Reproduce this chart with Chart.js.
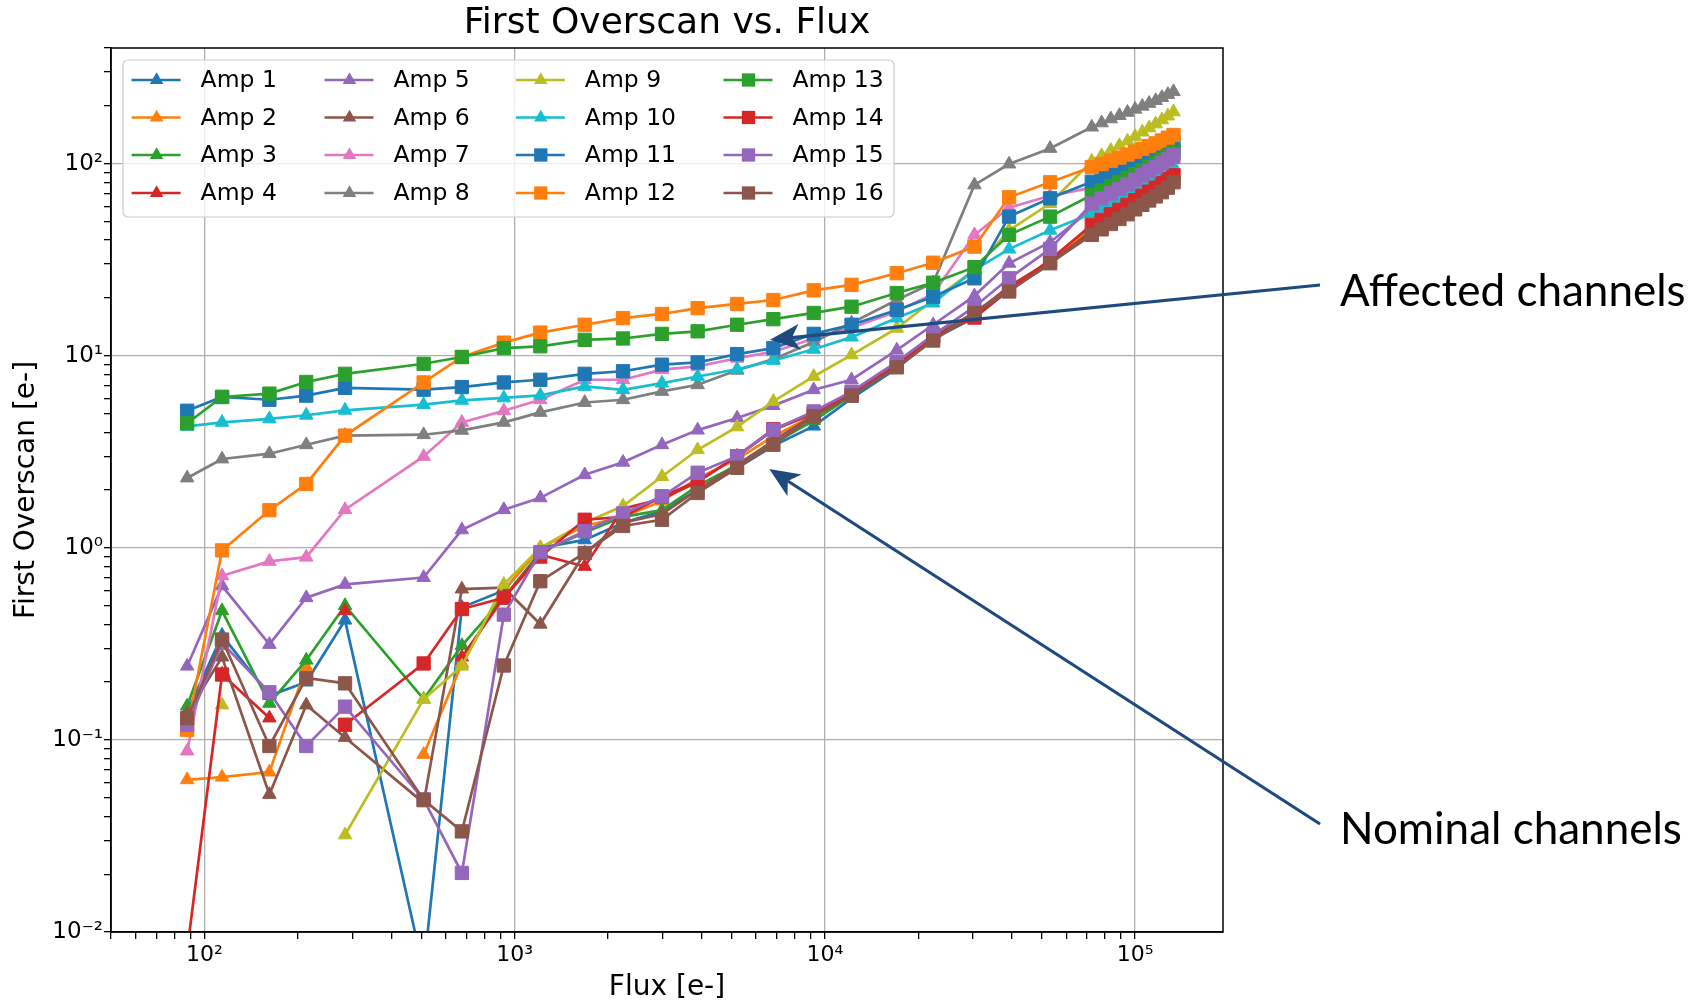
<!DOCTYPE html>
<html>
<head>
<meta charset="utf-8">
<script src="https://cdn.jsdelivr.net/npm/chart.js@4.4.1/dist/chart.umd.min.js"></script>
<style>
  html, body { margin: 0; background: #fff; }
  #wrap { width: 1706px; height: 1006px; }
</style>
</head>
<body>
<div id="wrap"><canvas id="chart" width="1706" height="1006"></canvas></div>
<script>
// flux levels [e-]
const flux = [88, 114, 162, 213, 284, 509, 676, 923, 1210, 1682, 2236, 2985, 3890, 5213, 6823, 9206, 12190, 17050, 22340, 30350, 39240, 53200,
  72500, 78000, 83500, 89000, 94500, 100000, 105500, 111000, 116500, 122000, 127500, 133000];

// first overscan [e-] per amplifier (null = not plotted on log axis)
const amp1 = [0.14, 0.35, 0.17, 0.2, 0.42, 0.0063, 0.49, 0.6, 1.0, 1.1, 1.35, 1.55, 2.0, 2.6, 3.4, 4.3, 6.0, 8.6, 12.2, 15.8, 22, 30, 46, 49, 52.5, 55.5, 59, 62.5, 66, 69.5, 73, 76.5, 80.5, 85];
const amp2 = [0.062, 0.064, 0.068, 0.24, null, 0.084, 0.25, 0.6, 1.0, 1.3, 1.45, 1.75, 2.3, 2.9, 3.8, 4.9, 6.3, 8.8, 12.3, 16.3, 22.5, 30.5, 47, 50, 53.5, 57, 60.5, 64, 67.5, 71, 75, 79, 83.5, 88];
const amp3 = [0.15, 0.47, 0.155, 0.26, 0.5, 0.163, 0.31, 0.55, 0.95, 1.2, 1.45, 1.57, 2.1, 2.7, 3.5, 4.6, 6.2, 8.8, 12.4, 16, 22, 30, 45, 48, 51.5, 54.5, 58, 61.5, 65, 68.5, 72, 75.5, 79.5, 84];
const amp4 = [null, 0.22, 0.13, null, 0.47, null, 0.27, 0.55, 0.92, 0.8, 1.6, 1.8, 2.2, 3.0, 4.1, 5.0, 6.4, 9.1, 12.8, 16.5, 23, 31, 44, 47, 50, 53, 56.5, 60, 63.5, 67, 70.5, 74, 78, 82];
const amp5 = [0.242, 0.634, 0.314, 0.55, 0.645, 0.70, 1.24, 1.58, 1.82, 2.4, 2.79, 3.44, 4.1, 4.74, 5.5, 6.65, 7.5, 10.7, 14.5, 20.5, 30.3, 39, 58, 62, 66, 70, 73.5, 77.5, 81.5, 85.5, 89.5, 94, 99, 105];
const amp6 = [0.137, 0.27, 0.052, 0.152, 0.103, 0.047, 0.61, 0.62, 0.4, 0.94, 1.35, 1.5, 2.0, 2.7, 3.6, 4.9, 6.4, 9.0, 12.5, 16.8, 22.5, 31, 43, 46, 49, 52, 55, 58.5, 62, 65.5, 69, 72.5, 76.5, 81];
const amp7 = [0.0875, 0.715, 0.85, 0.894, 1.58, 2.99, 4.5, 5.17, 5.9, 7.5, 7.5, 8.46, 8.8, 9.7, 10.5, 12.3, 14, 17, 21, 42.6, 59, 68, 75, 79, 83, 87, 91, 95, 99, 103, 107, 111, 115.5, 120];
const amp8 = [2.31, 2.9, 3.09, 3.44, 3.84, 3.88, 4.09, 4.5, 5.07, 5.71, 5.9, 6.52, 7.06, 8.4, 9.6, 11.8, 14.8, 19.5, 24, 77.5, 99.5, 120, 155, 163, 171, 178, 185, 192, 199, 206, 213, 221, 229, 237];
const amp9 = [null, 0.152, null, null, 0.032, 0.163, 0.242, 0.645, 1.0, 1.35, 1.65, 2.35, 3.24, 4.26, 5.78, 7.8, 10.1, 13.9, 19.5, 28, 45, 62, 103, 110, 117, 124, 131, 138.5, 146, 153.5, 161, 169, 177, 186];
const amp10 = [4.29, 4.5, 4.69, 4.9, 5.2, 5.56, 5.86, 6.03, 6.22, 6.92, 6.65, 7.2, 7.8, 8.5, 9.45, 10.8, 12.5, 15.7, 18.8, 28, 35.9, 45, 55, 58.5, 62, 65.5, 69, 72.5, 76.5, 80, 84, 88, 92.5, 97];
const amp11 = [5.17, 6.1, 5.9, 6.2, 6.8, 6.66, 6.87, 7.26, 7.5, 8.05, 8.3, 8.98, 9.23, 10.2, 10.96, 13.0, 14.5, 17.3, 20.3, 25.3, 53, 66, 80.5, 84.5, 89, 93, 97.5, 102, 106.5, 111, 115.5, 120, 125, 130];
const amp12 = [0.113, 0.97, 1.57, 2.15, 3.84, 7.26, 9.85, 11.7, 13.2, 14.5, 15.7, 16.5, 17.7, 18.6, 19.5, 21.9, 23.4, 26.9, 30.5, 37, 66.8, 80, 96, 99.5, 103.5, 107.5, 111.5, 115.5, 119.5, 123.5, 127.5, 132, 136.5, 141];
const amp13 = [4.45, 6.1, 6.35, 7.3, 8.05, 9.08, 9.85, 10.96, 11.2, 12.1, 12.3, 13.0, 13.4, 14.5, 15.5, 16.7, 18.0, 21.2, 24, 28.9, 42.6, 53, 68.7, 72.5, 76.5, 80.5, 84.5, 88.5, 92.5, 96.5, 101, 105.5, 110, 115];
const amp14 = [0.008, 0.219, null, null, 0.12, 0.25, 0.48, 0.55, 0.9, 1.4, 1.45, 1.85, 2.22, 3.0, 4.15, 5.0, 6.3, 9.0, 12.6, 15.8, 22, 31.6, 48, 51, 54.5, 57.5, 61, 64.5, 68, 71.5, 75, 79, 83, 87];
const amp15 = [0.12, 0.32, 0.177, 0.093, 0.149, 0.049, 0.0203, 0.449, 0.95, 1.22, 1.51, 1.85, 2.46, 3.0, 4.12, 5.13, 6.5, 9.3, 12.8, 18, 25.3, 36, 62, 66, 70, 74, 78, 82.5, 87, 91.5, 96, 100.5, 105.5, 111];
const amp16 = [0.13, 0.333, 0.093, 0.21, 0.197, 0.0488, 0.0334, 0.244, 0.67, 0.94, 1.3, 1.4, 1.93, 2.61, 3.44, 4.83, 6.2, 8.7, 12.0, 16.7, 21.6, 30.3, 42.6, 45.5, 48.5, 51.5, 54.5, 57.8, 61, 64.3, 67.5, 71, 75, 80];

const series = [amp1, amp2, amp3, amp4, amp5, amp6, amp7, amp8, amp9, amp10, amp11, amp12, amp13, amp14, amp15, amp16];
const ampNames = series.map((_, i) => 'Amp ' + (i + 1));

// annotation arrow tips (data coords)
const affectedTip = { x: 6650, y: 12.1 };
const nominalTip = { x: 6620, y: 2.57 };

const tab10 = ['#1f77b4', '#ff7f0e', '#2ca02c', '#d62728', '#9467bd', '#8c564b', '#e377c2', '#7f7f7f', '#bcbd22', '#17becf'];
const FONT = "'DejaVu Sans', sans-serif";

function sup(n) {
  const m = { '-': '\u207b', '0': '\u2070', '1': '\u00b9', '2': '\u00b2', '3': '\u00b3', '4': '\u2074', '5': '\u2075', '6': '\u2076', '7': '\u2077', '8': '\u2078', '9': '\u2079' };
  return String(n).split('').map(c => m[c]).join('');
}

function logTicks(min, max) {
  const out = [];
  for (let e = Math.floor(Math.log10(min)); e <= Math.ceil(Math.log10(max)); e++) {
    for (let k = 1; k < 10; k++) {
      const v = Number((k * Math.pow(10, e)).toPrecision(3));
      if (v >= min * 0.999 && v <= max * 1.001) out.push({ value: v, major: k === 1 });
    }
  }
  return out;
}

const datasets = series.map((vals, i) => {
  const c = tab10[i % 10];
  const r = i < 10 ? 7.8 : 9.4;
  return {
    label: ampNames[i],
    data: flux.map((f, j) => ({ x: f, y: vals[j] })),
    borderColor: c,
    backgroundColor: c,
    borderWidth: 2.7,
    pointStyle: i < 10 ? 'triangle' : 'rect',
    pointRadius: r,
    pointHoverRadius: r,
    pointBorderWidth: 1,
    pointBorderColor: c,
    pointBackgroundColor: c,
    spanGaps: false,
    tension: 0,
    order: 16 - i
  };
});

function drawMarker(ctx, style, r, x, y) {
  ctx.beginPath();
  if (style === 'triangle') {
    let a = 0;
    ctx.moveTo(x + Math.sin(a) * r, y - Math.cos(a) * r);
    a += 2 * Math.PI / 3;
    ctx.lineTo(x + Math.sin(a) * r, y - Math.cos(a) * r);
    a += 2 * Math.PI / 3;
    ctx.lineTo(x + Math.sin(a) * r, y - Math.cos(a) * r);
  } else {
    const s = Math.SQRT1_2 * r;
    ctx.rect(x - s, y - s, 2 * s, 2 * s);
  }
  ctx.closePath();
  ctx.fill();
}

const framePlugin = {
  id: 'frame',
  afterDatasetsDraw(chart) {
    const { ctx, chartArea: a } = chart;
    ctx.save();
    ctx.strokeStyle = '#000';
    ctx.lineWidth = 1.5;
    ctx.strokeRect(a.left, a.top, a.right - a.left, a.bottom - a.top);
    ctx.restore();
  }
};

const legendPlugin = {
  id: 'boxLegend',
  afterDatasetsDraw(chart) {
    const { ctx, chartArea: a } = chart;
    const bx = a.left + 12, by = a.top + 12, bw = 771, bh = 157;
    const colX = [8.6, 201.5, 392.8, 600.5];
    const rowY = [20, 57.5, 95, 133];
    ctx.save();
    ctx.beginPath();
    ctx.roundRect(bx, by, bw, bh, 5);
    ctx.fillStyle = 'rgba(255,255,255,0.8)';
    ctx.fill();
    ctx.strokeStyle = '#cccccc';
    ctx.lineWidth = 1.2;
    ctx.stroke();
    ctx.font = '23.5px ' + FONT;
    ctx.textBaseline = 'middle';
    chart.data.datasets.forEach((ds, i) => {
      const col = Math.floor(i / 4), row = i % 4;
      const x = bx + colX[col], y = by + rowY[row];
      ctx.strokeStyle = ds.borderColor;
      ctx.lineWidth = ds.borderWidth;
      ctx.beginPath();
      ctx.moveTo(x, y);
      ctx.lineTo(x + 49, y);
      ctx.stroke();
      ctx.fillStyle = ds.backgroundColor;
      drawMarker(ctx, ds.pointStyle, ds.pointRadius, x + 25, y);
      ctx.fillStyle = '#000';
      ctx.fillText(ds.label, x + 69, y + 1);
    });
    ctx.restore();
  }
};

function arrow(ctx, x0, y0, x1, y1) {
  const a = Math.atan2(y1 - y0, x1 - x0);
  const L = 30, W = 13, notch = 8;
  const cos = Math.cos(a), sin = Math.sin(a);
  const bx = x1 - L * cos, by = y1 - L * sin;
  ctx.beginPath();
  ctx.moveTo(x0, y0);
  ctx.lineTo(x1 - (L - notch) * cos, y1 - (L - notch) * sin);
  ctx.stroke();
  ctx.beginPath();
  ctx.moveTo(x1, y1);
  ctx.lineTo(bx - W * sin, by + W * cos);
  ctx.lineTo(x1 - (L - notch) * cos, y1 - (L - notch) * sin);
  ctx.lineTo(bx + W * sin, by - W * cos);
  ctx.closePath();
  ctx.fill();
}

const notePlugin = {
  id: 'notes',
  afterDraw(chart) {
    const { ctx, chartArea: a, scales } = chart;
    const tx = a.right + 97;
    ctx.save();
    ctx.strokeStyle = '#1f4a7e';
    ctx.fillStyle = '#1f4a7e';
    ctx.lineWidth = 3.2;
    arrow(ctx, tx, 285, scales.x.getPixelForValue(affectedTip.x), scales.y.getPixelForValue(affectedTip.y));
    arrow(ctx, tx, 824, scales.x.getPixelForValue(nominalTip.x), scales.y.getPixelForValue(nominalTip.y));
    ctx.fillStyle = '#000';
    ctx.textBaseline = 'middle';
    let size = 40;
    ctx.font = size + "px Lato, 'Open Sans', sans-serif";
    size = size * 346 / ctx.measureText('Affected channels').width;
    ctx.font = size.toFixed(1) + "px Lato, 'Open Sans', sans-serif";
    ctx.fillText('Affected channels', a.right + 117, 291.6);
    ctx.fillText('Nominal channels', a.right + 117, 830);
    ctx.restore();
  }
};

new Chart(document.getElementById('chart'), {
  type: 'line',
  data: { datasets },
  plugins: [framePlugin, legendPlugin, notePlugin],
  options: {
    responsive: false,
    animation: false,
    events: [],
    layout: { padding: { left: 0, right: 483, top: 0, bottom: 0 } },
    plugins: {
      legend: { display: false },
      tooltip: { enabled: false },
      title: {
        display: true,
        fullSize: false,
        text: 'First Overscan vs. Flux',
        color: '#000',
        font: { family: FONT, size: 36, weight: 'normal', lineHeight: 1.2 },
        padding: { top: 2.5, bottom: 2.3 }
      }
    },
    scales: {
      x: {
        type: 'logarithmic',
        min: 50,
        max: 192000,
        afterFit(s) { s.height = 74; },
        afterBuildTicks(s) { s.ticks = logTicks(50, 192000); },
        grid: {
          color: c => (c.tick && c.tick.major ? '#b0b0b0' : 'rgba(0,0,0,0)'),
          lineWidth: 1.3,
          tickColor: '#000',
          tickLength: 7,
          drawTicks: true
        },
        border: { display: true, color: '#000', width: 1.5 },
        ticks: {
          autoSkip: false,
          maxRotation: 0,
          padding: 3,
          color: '#000',
          font: { family: FONT, size: 22 },
          callback(v, i, t) { return t[i].major ? '10' + sup(Math.round(Math.log10(v))) : ''; }
        },
        title: {
          display: true,
          text: 'Flux [e-]',
          color: '#000',
          font: { family: FONT, size: 28, lineHeight: 1.2 },
          padding: { top: 0, bottom: 1 }
        }
      },
      y: {
        type: 'logarithmic',
        min: 0.01,
        max: 400,
        afterFit(s) { s.width = 111; },
        afterBuildTicks(s) { s.ticks = logTicks(0.01, 400); },
        grid: {
          color: c => (c.tick && c.tick.major ? '#b0b0b0' : 'rgba(0,0,0,0)'),
          lineWidth: 1.3,
          tickColor: '#000',
          tickLength: 7,
          drawTicks: true
        },
        border: { display: true, color: '#000', width: 1.5 },
        ticks: {
          autoSkip: false,
          padding: 1,
          color: '#000',
          font: { family: FONT, size: 23 },
          callback(v, i, t) { return t[i].major ? '10' + sup(Math.round(Math.log10(v))) : ''; }
        },
        title: {
          display: true,
          text: 'First Overscan [e-]',
          color: '#000',
          font: { family: FONT, size: 28, lineHeight: 1.2 },
          padding: { top: 10, bottom: 0 }
        }
      }
    }
  }
});
</script>
</body>
</html>
